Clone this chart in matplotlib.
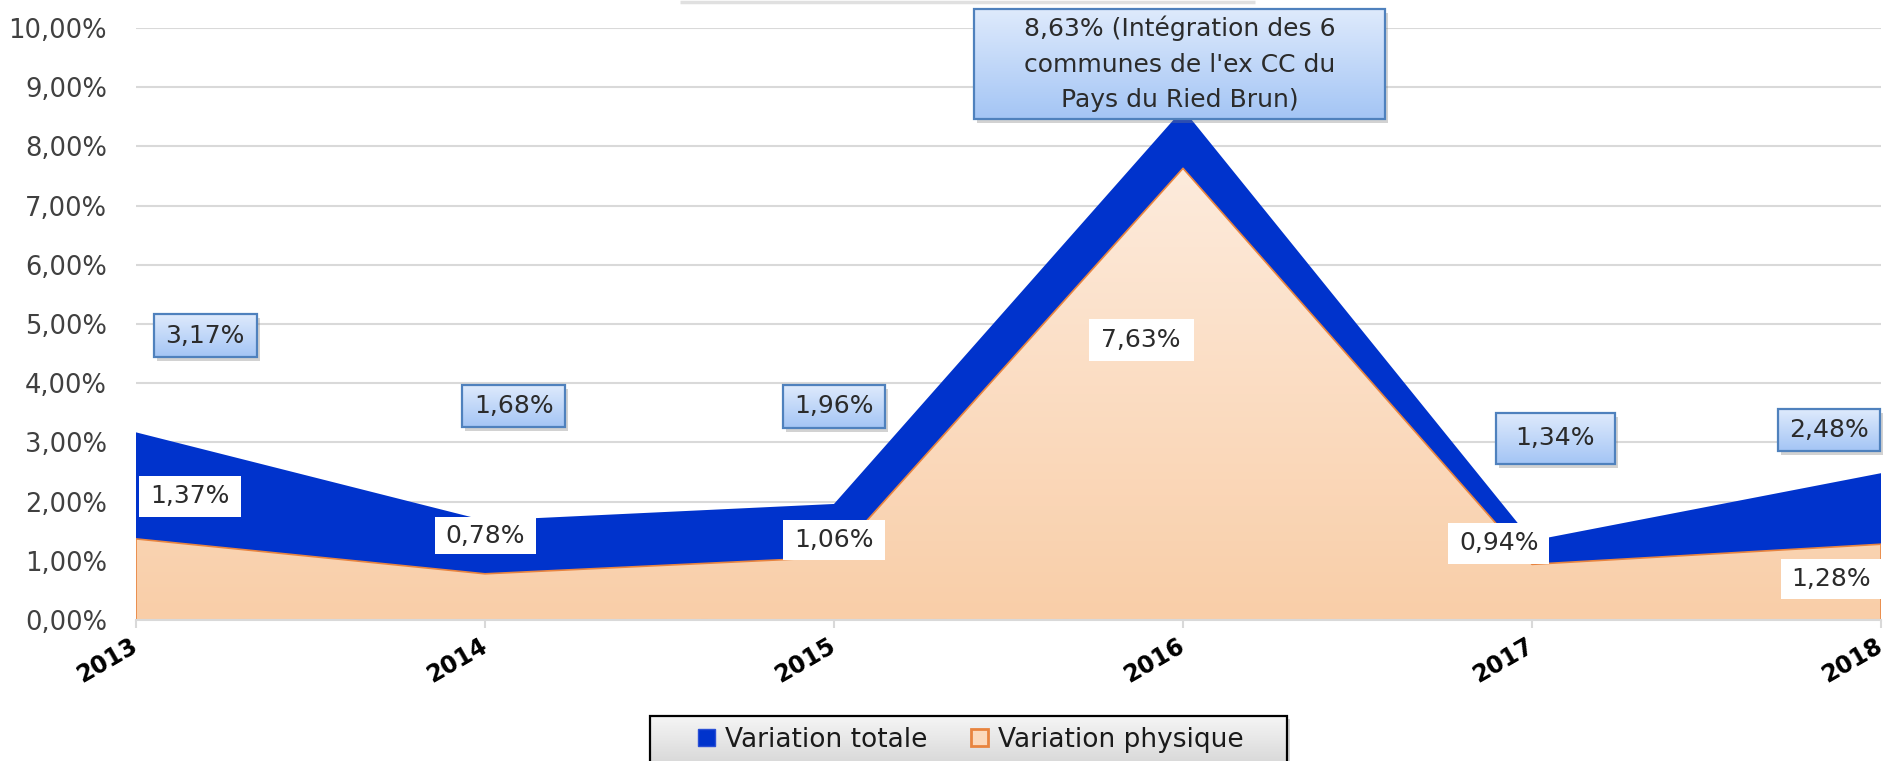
import numpy as np
import matplotlib
matplotlib.use("Agg")
import matplotlib.pyplot as plt
from matplotlib.patches import Rectangle, Patch
from matplotlib.ticker import FuncFormatter
from matplotlib.transforms import offset_copy

# ---------------- data ----------------
years = ["2013", "2014", "2015", "2016", "2017", "2018"]
variation_totale = [3.17, 1.68, 1.96, 8.63, 1.34, 2.48]
variation_physique = [1.37, 0.78, 1.06, 7.63, 0.94, 1.28]
y_ticks = [0, 1, 2, 3, 4, 5, 6, 7, 8, 9, 10]
legend_labels = ["Variation totale", "Variation physique"]
note_2016 = "(Intégration des 6\ncommunes de l'ex CC du\nPays du Ried Brun)"

# ---------------- layout (label placement, box sizes in px) ----------------
tot_label_pos = [(0.198, 4.80), (1.083, 3.61), (2.0, 3.61), (2.99, 9.39), (4.066, 3.07), (4.85, 3.21)]
tot_box_size = [(103, 43), (103, 42), (102, 43), (411, 110), (119, 51), (102, 42)]
phy_label_pos = [(0.155, 2.09), (1.0, 1.42), (2.0, 1.35), (2.88, 4.73), (3.905, 1.30), (4.857, 0.69)]
phy_box_size = [(102, 41), (101, 37), (102, 40), (105, 42), (101, 41), (100, 40)]

W, H = 1889, 761
FS = 18
BLUE = "#0033cc"


def fmt(v):
    return f"{v:.2f}".replace(".", ",") + "%"


plt.rcParams["font.family"] = ["DejaVu Sans"]
fig = plt.figure(figsize=(W / 100, H / 100), dpi=100)
fig.patch.set_facecolor("white")

ax = fig.add_axes([136 / W, 1 - 620 / H, (1881 - 136) / W, (620 - 28) / H])
x = np.arange(len(years))

# blue area (total)
ax.fill_between(x, 0, variation_totale, facecolor=BLUE, edgecolor="none", zorder=1)

# orange gradient area (physique)
poly = ax.fill_between(x, 0, variation_physique, facecolor="none", edgecolor="none", zorder=2)
top_c = np.array([253, 235, 220]) / 255
bot_c = np.array([249, 206, 168]) / 255
grad = np.linspace(top_c, bot_c, 128)[:, None, :]
img = ax.imshow(grad, extent=[x[0], x[-1], 0, max(variation_physique)], origin="upper",
                aspect="auto", zorder=2, interpolation="bilinear")
img.set_clip_path(poly.get_paths()[0], ax.transData)
ax.fill_between(x, 0, variation_physique, facecolor="none", edgecolor="#e8843f", lw=1.2, zorder=3)

ax.set_xlim(x[0], x[-1])
ax.set_ylim(y_ticks[0], y_ticks[-1])
ax.set_yticks(y_ticks)
ax.yaxis.set_major_formatter(FuncFormatter(lambda v, p: f"{v:.2f}".replace(".", ",") + "%"))
ax.set_xticks(x)
ax.set_xticklabels([])
ax.tick_params(axis="y", length=0, pad=21, labelsize=18.5, labelcolor="#404040")
ax.tick_params(axis="x", length=6, width=1.5, color="#d9d9d9")
ax.grid(axis="y", color="#d9d9d9", lw=1.5, zorder=0)
ax.set_axisbelow(True)
for s in ["left", "right", "top"]:
    ax.spines[s].set_visible(False)
ax.spines["bottom"].set_color("#d9d9d9")
ax.spines["bottom"].set_linewidth(1.5)
ax.spines["bottom"].set_zorder(4)

# rotated year labels
ytr = offset_copy(ax.get_xaxis_transform(), fig=fig, x=-6, y=-14, units="dots")
for xi, yr in zip(x, years):
    ax.text(xi, 0, yr, transform=ytr, rotation=30, rotation_mode="anchor", ha="right", va="top",
            fontsize=17, fontweight="bold", color="black", clip_on=False)

# ---------------- overlay in pixel coordinates ----------------
ov = fig.add_axes([0, 0, 1, 1], zorder=3)
ov.patch.set_alpha(0)
ov.axis("off")

blue_top = np.array([222, 234, 252]) / 255
blue_bot = np.array([164, 197, 245]) / 255
bgrad = np.linspace(blue_top, blue_bot, 64)[:, None, :]


def draw_box(cx, cy, w, h, kind, text, ls=1.2):
    x0, y0 = cx - w / 2, cy - h / 2
    if kind == "blue":
        ov.add_patch(Rectangle((x0 + 3, y0 - 4), w, h, fc="#808080", ec="none", alpha=0.35, zorder=1))
        ov.imshow(bgrad, extent=[x0, x0 + w, y0, y0 + h], origin="upper", aspect="auto",
                  zorder=2, interpolation="bilinear")
        ov.add_patch(Rectangle((x0, y0), w, h, fc="none", ec="#4f81bd", lw=1.6, zorder=3))
    else:
        ov.add_patch(Rectangle((x0, y0), w, h, fc="white", ec="none", zorder=2))
    ov.text(cx, cy, text, ha="center", va="center", fontsize=FS, color="#2b2b2b",
            zorder=4, linespacing=ls, multialignment="center")


for i, v in enumerate(variation_totale):
    cx, cy = ax.transData.transform(tot_label_pos[i])
    w, h = tot_box_size[i]
    if years[i] == "2016":
        draw_box(cx, cy, w, h, "blue", fmt(v) + " " + note_2016, ls=1.6)
    else:
        draw_box(cx, cy, w, h, "blue", fmt(v))

for i, v in enumerate(variation_physique):
    cx, cy = ax.transData.transform(phy_label_pos[i])
    w, h = phy_box_size[i]
    draw_box(cx, cy, w, h, "white", fmt(v))

# legend frame (gradient grey, clipped at bottom)
lx0, lx1, ltop = 650, 1287, H - 716
ov.add_patch(Rectangle((lx0 + 3, -10), lx1 - lx0, ltop + 10 - 3, fc="#909090", ec="none", alpha=0.4, zorder=1))
lgrad = np.linspace(np.array([245, 245, 245]) / 255, np.array([212, 212, 212]) / 255, 32)[:, None, :]
ov.imshow(lgrad, extent=[lx0, lx1, -10, ltop], origin="upper", aspect="auto", zorder=2)
ov.add_patch(Rectangle((lx0, -10), lx1 - lx0, ltop + 10, fc="none", ec="black", lw=1.6, zorder=3))

# clipped title box shadow at top
ov.plot([680, 1255], [H - 1.5, H - 1.5], color="#e0e0e0", lw=2.5, zorder=1, solid_capstyle="butt")

ov.set_xlim(0, W)
ov.set_ylim(0, H)

handles = [Patch(facecolor=BLUE, edgecolor="#2a4fd6", label=legend_labels[0]),
           Patch(facecolor="#fbd9bc", edgecolor="#e8843f", linewidth=2, label=legend_labels[1])]
leg = fig.legend(handles=handles, loc="center left", bbox_to_anchor=(698 / W, 1 - 740 / H),
                 ncol=2, fontsize=19, frameon=False, borderpad=0, handlelength=0.63,
                 handleheight=0.63, handletextpad=0.38, columnspacing=1.67, borderaxespad=0)
for t in leg.get_texts():
    t.set_color("#1a1a1a")
leg.set_zorder(10)

fig.savefig("out.png", dpi=100)
